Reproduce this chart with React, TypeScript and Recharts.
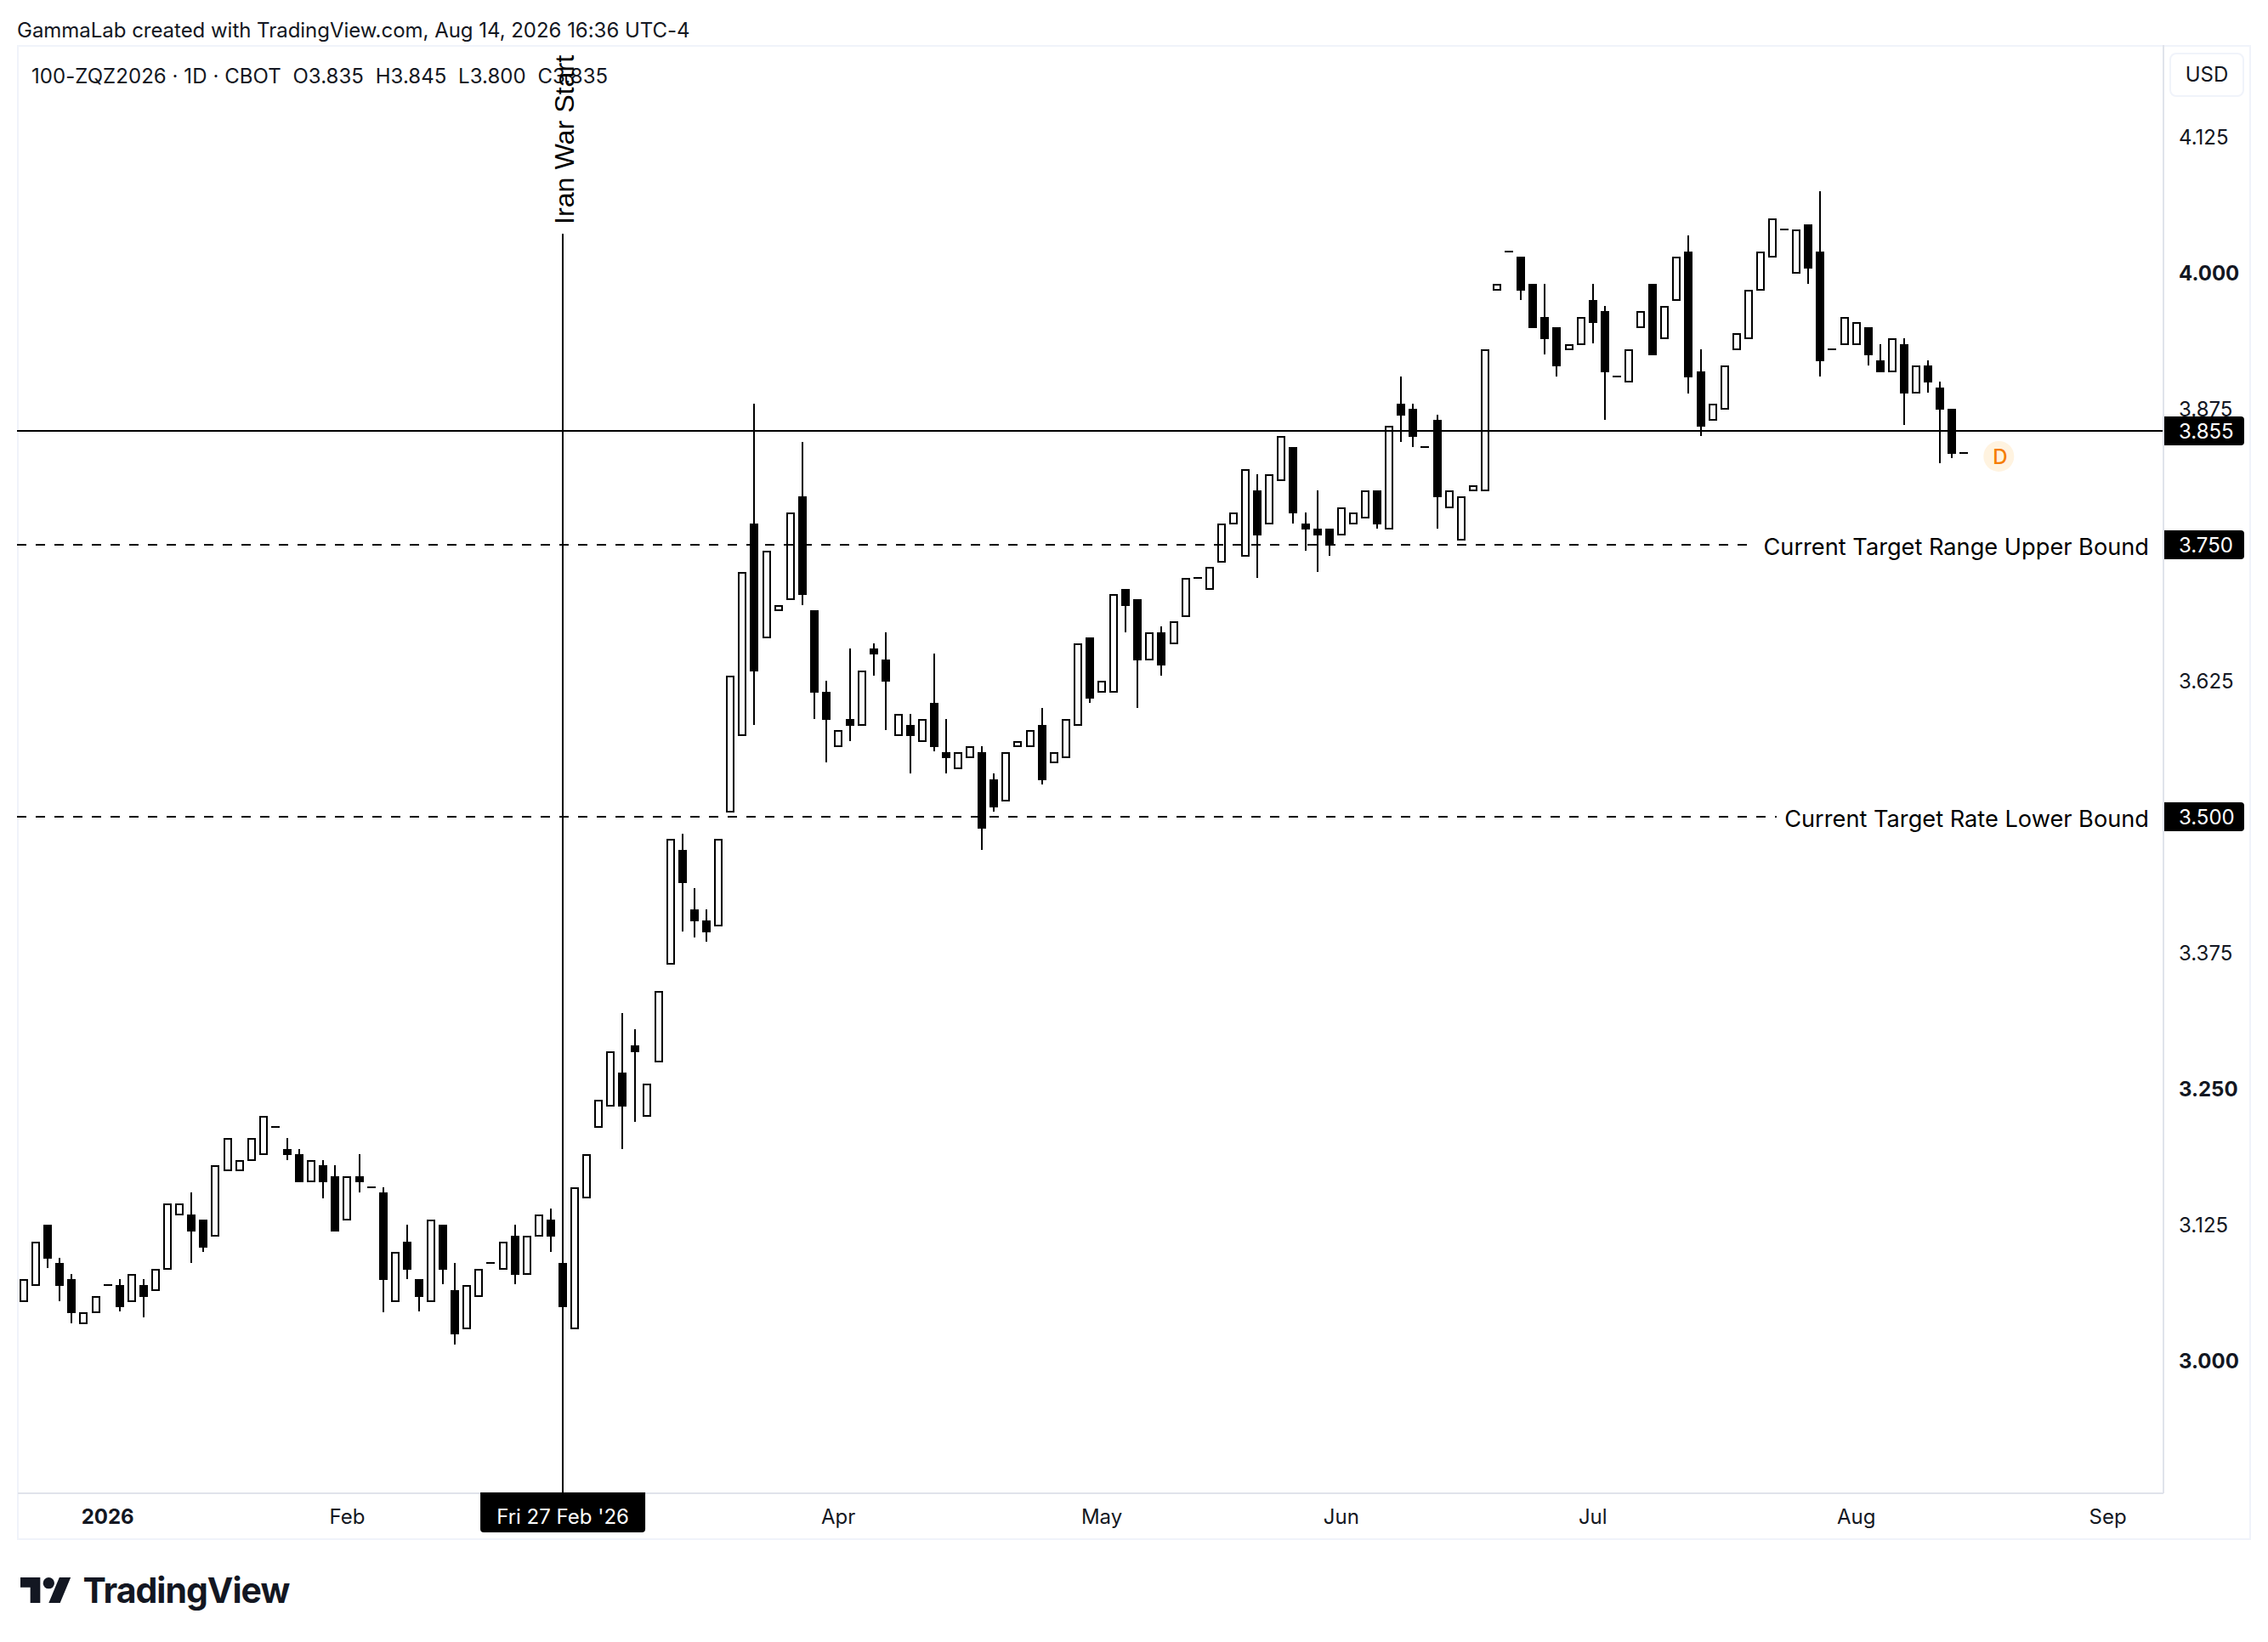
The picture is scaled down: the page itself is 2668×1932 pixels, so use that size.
import React from "react";
import { ComposedChart, Bar, XAxis, YAxis, ReferenceLine, ReferenceDot } from "recharts";

const sessionMonths: [string, number[]][] = [
  ["2025-12", [22,23,24,26,29,30,31]],
  ["2026-01", [2,5,6,7,8,9,12,13,14,15,16,20,21,22,23,26,27,28,29,30]],
  ["2026-02", [2,3,4,5,6,9,10,11,12,13,17,18,19,20,23,24,25,26,27]],
  ["2026-03", [2,3,4,5,6,9,10,11,12,13,16,17,18,19,20,23,24,25,26,27,30,31]],
  ["2026-04", [1,2,3,6,7,8,9,10,13,14,15,16,17,20,21,22,23,24,27,28,29,30]],
  ["2026-05", [1,4,5,6,7,8,11,12,13,14,15,18,19,20,21,22,26,27,28,29]],
  ["2026-06", [1,2,3,4,5,8,9,10,11,12,15,16,17,18,22,23,24,25,26,29,30]],
  ["2026-07", [1,2,6,7,8,9,10,13,14,15,16,17,20,21,22,23,24,27,28,29,30,31]],
  ["2026-08", [3,4,5,6,7,10,11,12,13,14,17,18,19,20,21,24,25,26,27,28,31]],
  ["2026-09", [1,2,3,4,8]],
];

const opens = [
  3.055,3.07,3.125,3.09,3.075,3.035,3.045,3.07,3.07,3.055,
  3.07,3.065,3.085,3.135,3.135,3.13,3.115,3.175,3.175,3.185,
  3.19,3.215,3.195,3.19,3.165,3.18,3.17,3.13,3.17,3.16,
  3.155,3.055,3.11,3.075,3.055,3.125,3.065,3.03,3.06,3.09,
  3.085,3.115,3.08,3.115,3.13,3.09,3.03,3.15,3.215,3.235,
  3.265,3.29,3.225,3.275,3.365,3.47,3.415,3.405,3.40,3.505,
  3.575,3.77,3.665,3.69,3.70,3.795,3.69,3.615,3.565,3.59,
  3.585,3.655,3.645,3.575,3.585,3.57,3.605,3.56,3.545,3.555,
  3.56,3.535,3.515,3.565,3.565,3.585,3.55,3.555,3.585,3.665,
  3.615,3.615,3.71,3.70,3.645,3.67,3.66,3.685,3.72,3.71,
  3.735,3.77,3.74,3.80,3.77,3.81,3.84,3.77,3.765,3.765,
  3.76,3.77,3.775,3.80,3.765,3.88,3.875,3.84,3.865,3.785,
  3.755,3.80,3.80,3.985,4.02,4.015,3.99,3.96,3.95,3.93,
  3.935,3.975,3.965,3.905,3.90,3.95,3.99,3.94,3.975,4.02,
  3.91,3.865,3.875,3.93,3.94,3.985,4.015,4.04,4.00,4.045,
  4.02,3.93,3.935,3.935,3.95,3.92,3.91,3.935,3.89,3.915,
  3.895,3.875,3.835,
];
const highs = [
  3.075,3.11,3.125,3.095,3.08,3.045,3.06,3.07,3.075,3.08,
  3.075,3.085,3.145,3.145,3.155,3.13,3.18,3.205,3.185,3.205,
  3.225,3.215,3.205,3.195,3.185,3.185,3.18,3.17,3.19,3.16,
  3.16,3.10,3.125,3.075,3.13,3.125,3.09,3.07,3.085,3.09,
  3.11,3.125,3.115,3.135,3.14,3.09,3.16,3.19,3.24,3.285,
  3.32,3.305,3.255,3.34,3.48,3.485,3.435,3.415,3.48,3.63,
  3.725,3.88,3.745,3.695,3.78,3.845,3.69,3.625,3.58,3.655,
  3.635,3.66,3.67,3.595,3.595,3.59,3.65,3.59,3.56,3.565,
  3.565,3.54,3.56,3.57,3.58,3.60,3.56,3.59,3.66,3.665,
  3.625,3.705,3.71,3.70,3.67,3.675,3.68,3.72,3.72,3.73,
  3.77,3.78,3.82,3.815,3.815,3.85,3.84,3.78,3.80,3.765,
  3.785,3.78,3.80,3.80,3.86,3.905,3.88,3.84,3.87,3.80,
  3.795,3.805,3.93,3.99,4.02,4.015,3.99,3.99,3.95,3.935,
  3.96,3.99,3.97,3.905,3.93,3.965,3.99,3.97,4.015,4.035,
  3.93,3.88,3.915,3.945,3.985,4.02,4.05,4.04,4.04,4.045,
  4.075,3.93,3.96,3.955,3.95,3.935,3.94,3.94,3.915,3.92,
  3.90,3.875,3.835,
];
const lows = [
  3.055,3.07,3.085,3.055,3.035,3.035,3.045,3.07,3.045,3.055,
  3.04,3.065,3.085,3.135,3.09,3.10,3.115,3.175,3.175,3.185,
  3.19,3.215,3.185,3.165,3.165,3.15,3.12,3.13,3.155,3.16,
  3.045,3.055,3.075,3.045,3.055,3.07,3.015,3.03,3.06,3.09,
  3.085,3.07,3.08,3.115,3.10,3.05,3.03,3.15,3.215,3.235,
  3.195,3.22,3.225,3.275,3.365,3.395,3.39,3.385,3.40,3.505,
  3.575,3.585,3.665,3.69,3.70,3.695,3.59,3.55,3.565,3.57,
  3.585,3.63,3.58,3.575,3.54,3.57,3.56,3.54,3.545,3.555,
  3.47,3.505,3.515,3.565,3.565,3.53,3.55,3.555,3.585,3.605,
  3.615,3.615,3.67,3.60,3.645,3.63,3.66,3.685,3.72,3.71,
  3.735,3.77,3.74,3.72,3.77,3.81,3.77,3.745,3.725,3.74,
  3.76,3.77,3.775,3.765,3.765,3.845,3.84,3.84,3.765,3.785,
  3.755,3.80,3.80,3.985,4.02,3.975,3.95,3.925,3.905,3.93,
  3.935,3.935,3.865,3.905,3.90,3.95,3.925,3.94,3.975,3.89,
  3.85,3.865,3.875,3.93,3.94,3.985,4.015,4.04,4.00,3.99,
  3.905,3.93,3.935,3.935,3.915,3.91,3.91,3.86,3.89,3.89,
  3.825,3.83,3.835,
];
const closes = [
  3.075,3.11,3.095,3.07,3.045,3.045,3.06,3.07,3.05,3.08,
  3.06,3.085,3.145,3.145,3.12,3.105,3.18,3.205,3.185,3.205,
  3.225,3.215,3.19,3.165,3.185,3.165,3.12,3.17,3.165,3.16,
  3.075,3.10,3.085,3.06,3.13,3.085,3.025,3.07,3.085,3.09,
  3.11,3.08,3.115,3.135,3.115,3.05,3.16,3.19,3.24,3.285,
  3.235,3.285,3.255,3.34,3.48,3.44,3.405,3.395,3.48,3.63,
  3.725,3.635,3.745,3.695,3.78,3.705,3.615,3.59,3.58,3.585,
  3.635,3.65,3.625,3.595,3.575,3.59,3.565,3.555,3.56,3.565,
  3.49,3.51,3.56,3.57,3.58,3.535,3.56,3.59,3.66,3.61,
  3.625,3.705,3.695,3.645,3.67,3.64,3.68,3.72,3.72,3.73,
  3.77,3.78,3.82,3.76,3.815,3.85,3.78,3.765,3.76,3.75,
  3.785,3.78,3.80,3.77,3.86,3.87,3.85,3.84,3.795,3.80,
  3.795,3.805,3.93,3.99,4.02,3.985,3.95,3.94,3.915,3.935,
  3.96,3.955,3.91,3.905,3.93,3.965,3.925,3.97,4.015,3.905,
  3.86,3.88,3.915,3.945,3.985,4.02,4.05,4.04,4.04,4.005,
  3.92,3.93,3.96,3.955,3.925,3.91,3.94,3.89,3.915,3.90,
  3.875,3.835,3.835,
];

const priceTicks = [3, 3.125, 3.25, 3.375, 3.625, 3.875, 4, 4.125];
const boldPriceTicks = [3, 3.25, 4];
const monthTicks: [string, string][] = [
  ["2026-01-02", "2026"],
  ["2026-02-02", "Feb"],
  ["2026-02-27", "Fri 27 Feb '26"],
  ["2026-04-01", "Apr"],
  ["2026-05-01", "May"],
  ["2026-06-01", "Jun"],
  ["2026-07-01", "Jul"],
  ["2026-08-03", "Aug"],
  ["2026-09-01", "Sep"],
];
const warSession = "2026-02-27";
const warLabel = "Iran War Start";
const lastPrice = 3.855;
const upperBound = 3.75;
const lowerBound = 3.5;
const upperLabel = "Current Target Range Upper Bound";
const lowerLabel = "Current Target Rate Lower Bound";
const priceMin = 2.8784;
const priceMax = 4.2097;
const warLineTop = 4.036;
const dividendSession = "2026-08-19";
const dividendPrice = 3.8316;

const sessions = sessionMonths.flatMap(([m, days]) =>
  days.map((d) => `${m}-${String(d).padStart(2, "0")}`)
);
const rows = sessions.map((session, i) => ({
  session,
  open: opens[i],
  close: closes[i],
  range: i < opens.length ? [lows[i], highs[i]] : null,
}));

const UI = "Inter, 'Noto Sans', sans-serif";
const INK = "#000000";
const PLOT_RIGHT = 2545;
const FONT = 24;

const Candle = (p: any) => {
  const { x, y, width, height, payload } = p;
  if (!payload || !payload.range) return null;
  const [low, high] = payload.range;
  const toY = (v: number) => (high === low ? y : y + ((high - v) / (high - low)) * height);
  const cx = Math.round(x + width / 2);
  const bodyTop = Math.round(toY(Math.max(payload.open, payload.close)));
  const bodyBot = Math.round(toY(Math.min(payload.open, payload.close)));
  const left = cx - 5;
  const wick = (
    <rect x={cx - 1} y={Math.round(y)} width={2} height={Math.max(Math.round(height), 0)} fill={INK} shapeRendering="crispEdges" />
  );
  if (bodyBot - bodyTop < 1) {
    return <g>{wick}<rect x={left} y={bodyTop - 1} width={10} height={2} fill={INK} shapeRendering="crispEdges" /></g>;
  }
  if (payload.close >= payload.open) {
    return (
      <g>
        {wick}
        <rect x={left + 1} y={bodyTop + 1} width={8} height={bodyBot - bodyTop - 1} fill="#fff" stroke={INK} strokeWidth={2} shapeRendering="crispEdges" />
      </g>
    );
  }
  return <g>{wick}<rect x={left} y={bodyTop} width={10} height={bodyBot - bodyTop + 1} fill={INK} shapeRendering="crispEdges" /></g>;
};

const PriceTick = (p: any) => {
  const v = p.payload.value;
  return (
    <text x={2563} y={p.y} dy={8.6} textAnchor="start" fontFamily={UI} fontSize={FONT}
      fontWeight={boldPriceTicks.includes(v) ? 700 : 400} fill="#131722">
      {v.toFixed(3)}
    </text>
  );
};

const TimeTick = (p: any) => {
  const v = p.payload.value;
  const label = monthTicks.find((t) => t[0] === v)?.[1] ?? "";
  const baseline = 1792.5;
  if (v === warSession) {
    const l = p.x - 97, r = p.x + 97, t = 1756, b = 1803;
    return (
      <g>
        <path d={`M${l} ${t}H${r}V${b - 4}Q${r} ${b} ${r - 4} ${b}H${l + 4}Q${l} ${b} ${l} ${b - 4}Z`} fill={INK} />
        <text x={p.x} y={baseline} textAnchor="middle" fontFamily={UI} fontSize={FONT} fill="#fff">{label}</text>
      </g>
    );
  }
  return (
    <text x={p.x} y={baseline} textAnchor="middle" fontFamily={UI} fontSize={FONT}
      fontWeight={label === "2026" ? 700 : 400} fill="#131722">{label}</text>
  );
};

const PriceBox = ({ y, text }: { y: number; text: string }) => (
  <g>
    <path d={`M2546 ${y - 17}H2636Q2640 ${y - 17} 2640 ${y - 13}V${y + 13}Q2640 ${y + 17} 2636 ${y + 17}H2546Z`} fill={INK} />
    <text x={2563} y={y} dy={8.6} fontFamily={UI} fontSize={FONT} fill="#fff">{text}</text>
  </g>
);

const levelShape = (value: number, endX: number, dashed: boolean, note?: string) => (p: any) => {
  const y = p.y1;
  return (
    <g>
      <line x1={20} x2={endX} y1={y} y2={y} stroke={INK} strokeWidth={2} strokeDasharray={dashed ? "11 11" : undefined} shapeRendering="crispEdges" />
      {note ? (
        <text x={2528} y={y} dy={11.5} textAnchor="end" fontFamily={UI} fontSize={27.2} fill={INK}>{note}</text>
      ) : null}
      <PriceBox y={Math.round(y)} text={value.toFixed(3)} />
    </g>
  );
};

const warShape = (p: any) => {
  const x = p.x1;
  return (
    <g>
      <line x1={x} x2={x} y1={p.y1} y2={p.y2} stroke={INK} strokeWidth={2} shapeRendering="crispEdges" />
      <text transform={`translate(${x + 13},264) rotate(-90)`} fontFamily="'Liberation Sans', Arial, sans-serif" fontSize={32.2} fill={INK}>
        {warLabel}
      </text>
    </g>
  );
};

const DividendMark = (p: any) => (
  <g>
    <circle cx={p.cx - 1.5} cy={p.cy} r={18} fill="#fff3e0" />
    <text x={p.cx} y={p.cy} dy={9} textAnchor="middle" fontFamily={UI} fontSize={24} fontWeight={500} fill="#f57c00">D</text>
  </g>
);

const Logo = () => (
  <svg style={{ position: "absolute", left: 24, top: 1856 }} width={60} height={40} viewBox="0 4 36 24">
    <path d="M14 22H7V11H0V4h14v18zM28 22h-8l7.5-18h8L28 22z" fill="#131722" />
    <circle cx={20} cy={8} r={4} fill="#131722" />
  </svg>
);

const abs = (left: number, top: number, extra: React.CSSProperties = {}): React.CSSProperties => ({
  position: "absolute", left, top, fontFamily: UI, fontSize: FONT, lineHeight: "30px", color: "#131722", whiteSpace: "pre", ...extra,
});

export default function App() {
  return (
    <div style={{ position: "absolute", left: 0, top: 0, width: 2668, height: 1932, background: "#fff", overflow: "hidden" }}>
      <div style={abs(20, 21, { letterSpacing: -0.03 })}>GammaLab created with TradingView.com, Aug 14, 2026 16:36 UTC-4</div>
      <div style={{ position: "absolute", left: 20, top: 53, width: 2628, height: 1759, boxSizing: "border-box", border: "2px solid #f0f3fa" }} />
      <div style={abs(37, 75, { letterSpacing: 0.06 })}>100-ZQZ2026 · 1D · CBOT  O3.835  H3.845  L3.800  C3.835</div>
      <div style={{ ...abs(2552, 62), width: 88, height: 52, boxSizing: "border-box", border: "2px solid #f0f3fa", borderRadius: 8, textAlign: "center", lineHeight: "48px" }}>USD</div>
      <ComposedChart
        style={{ position: "absolute", left: 0, top: 0 }}
        width={2668}
        height={1932}
        data={rows}
        margin={{ top: 53, right: 20, bottom: 120, left: 21 }}
        barCategoryGap={0}
      >
        <XAxis dataKey="session" ticks={monthTicks.map((t) => t[0])} interval={0} height={55} padding={{ left: 0, right: 2 }}
          axisLine={{ stroke: "#e0e3eb", strokeWidth: 2 }} tickLine={false} tick={TimeTick} />
        <YAxis orientation="right" width={103} domain={[priceMin, priceMax]} ticks={priceTicks} allowDataOverflow
          axisLine={{ stroke: "#e0e3eb", strokeWidth: 2 }} tickLine={false} tick={PriceTick} />
        <Bar dataKey="range" barSize={10} isAnimationActive={false} shape={Candle} />
        <ReferenceLine segment={[{ x: warSession, y: warLineTop }, { x: warSession, y: priceMin }]} shape={warShape} />
        <ReferenceLine y={lastPrice} shape={levelShape(lastPrice, PLOT_RIGHT, false)} />
        <ReferenceLine y={upperBound} shape={levelShape(upperBound, 2055, true, upperLabel)} />
        <ReferenceLine y={lowerBound} shape={levelShape(lowerBound, 2090, true, lowerLabel)} />
        <ReferenceDot x={dividendSession} y={dividendPrice} shape={DividendMark} />
      </ComposedChart>
      <Logo />
      <div style={abs(97.5, 1846, { fontSize: 41, fontWeight: 700, lineHeight: "50px", letterSpacing: -1 })}>TradingView</div>
    </div>
  );
}
